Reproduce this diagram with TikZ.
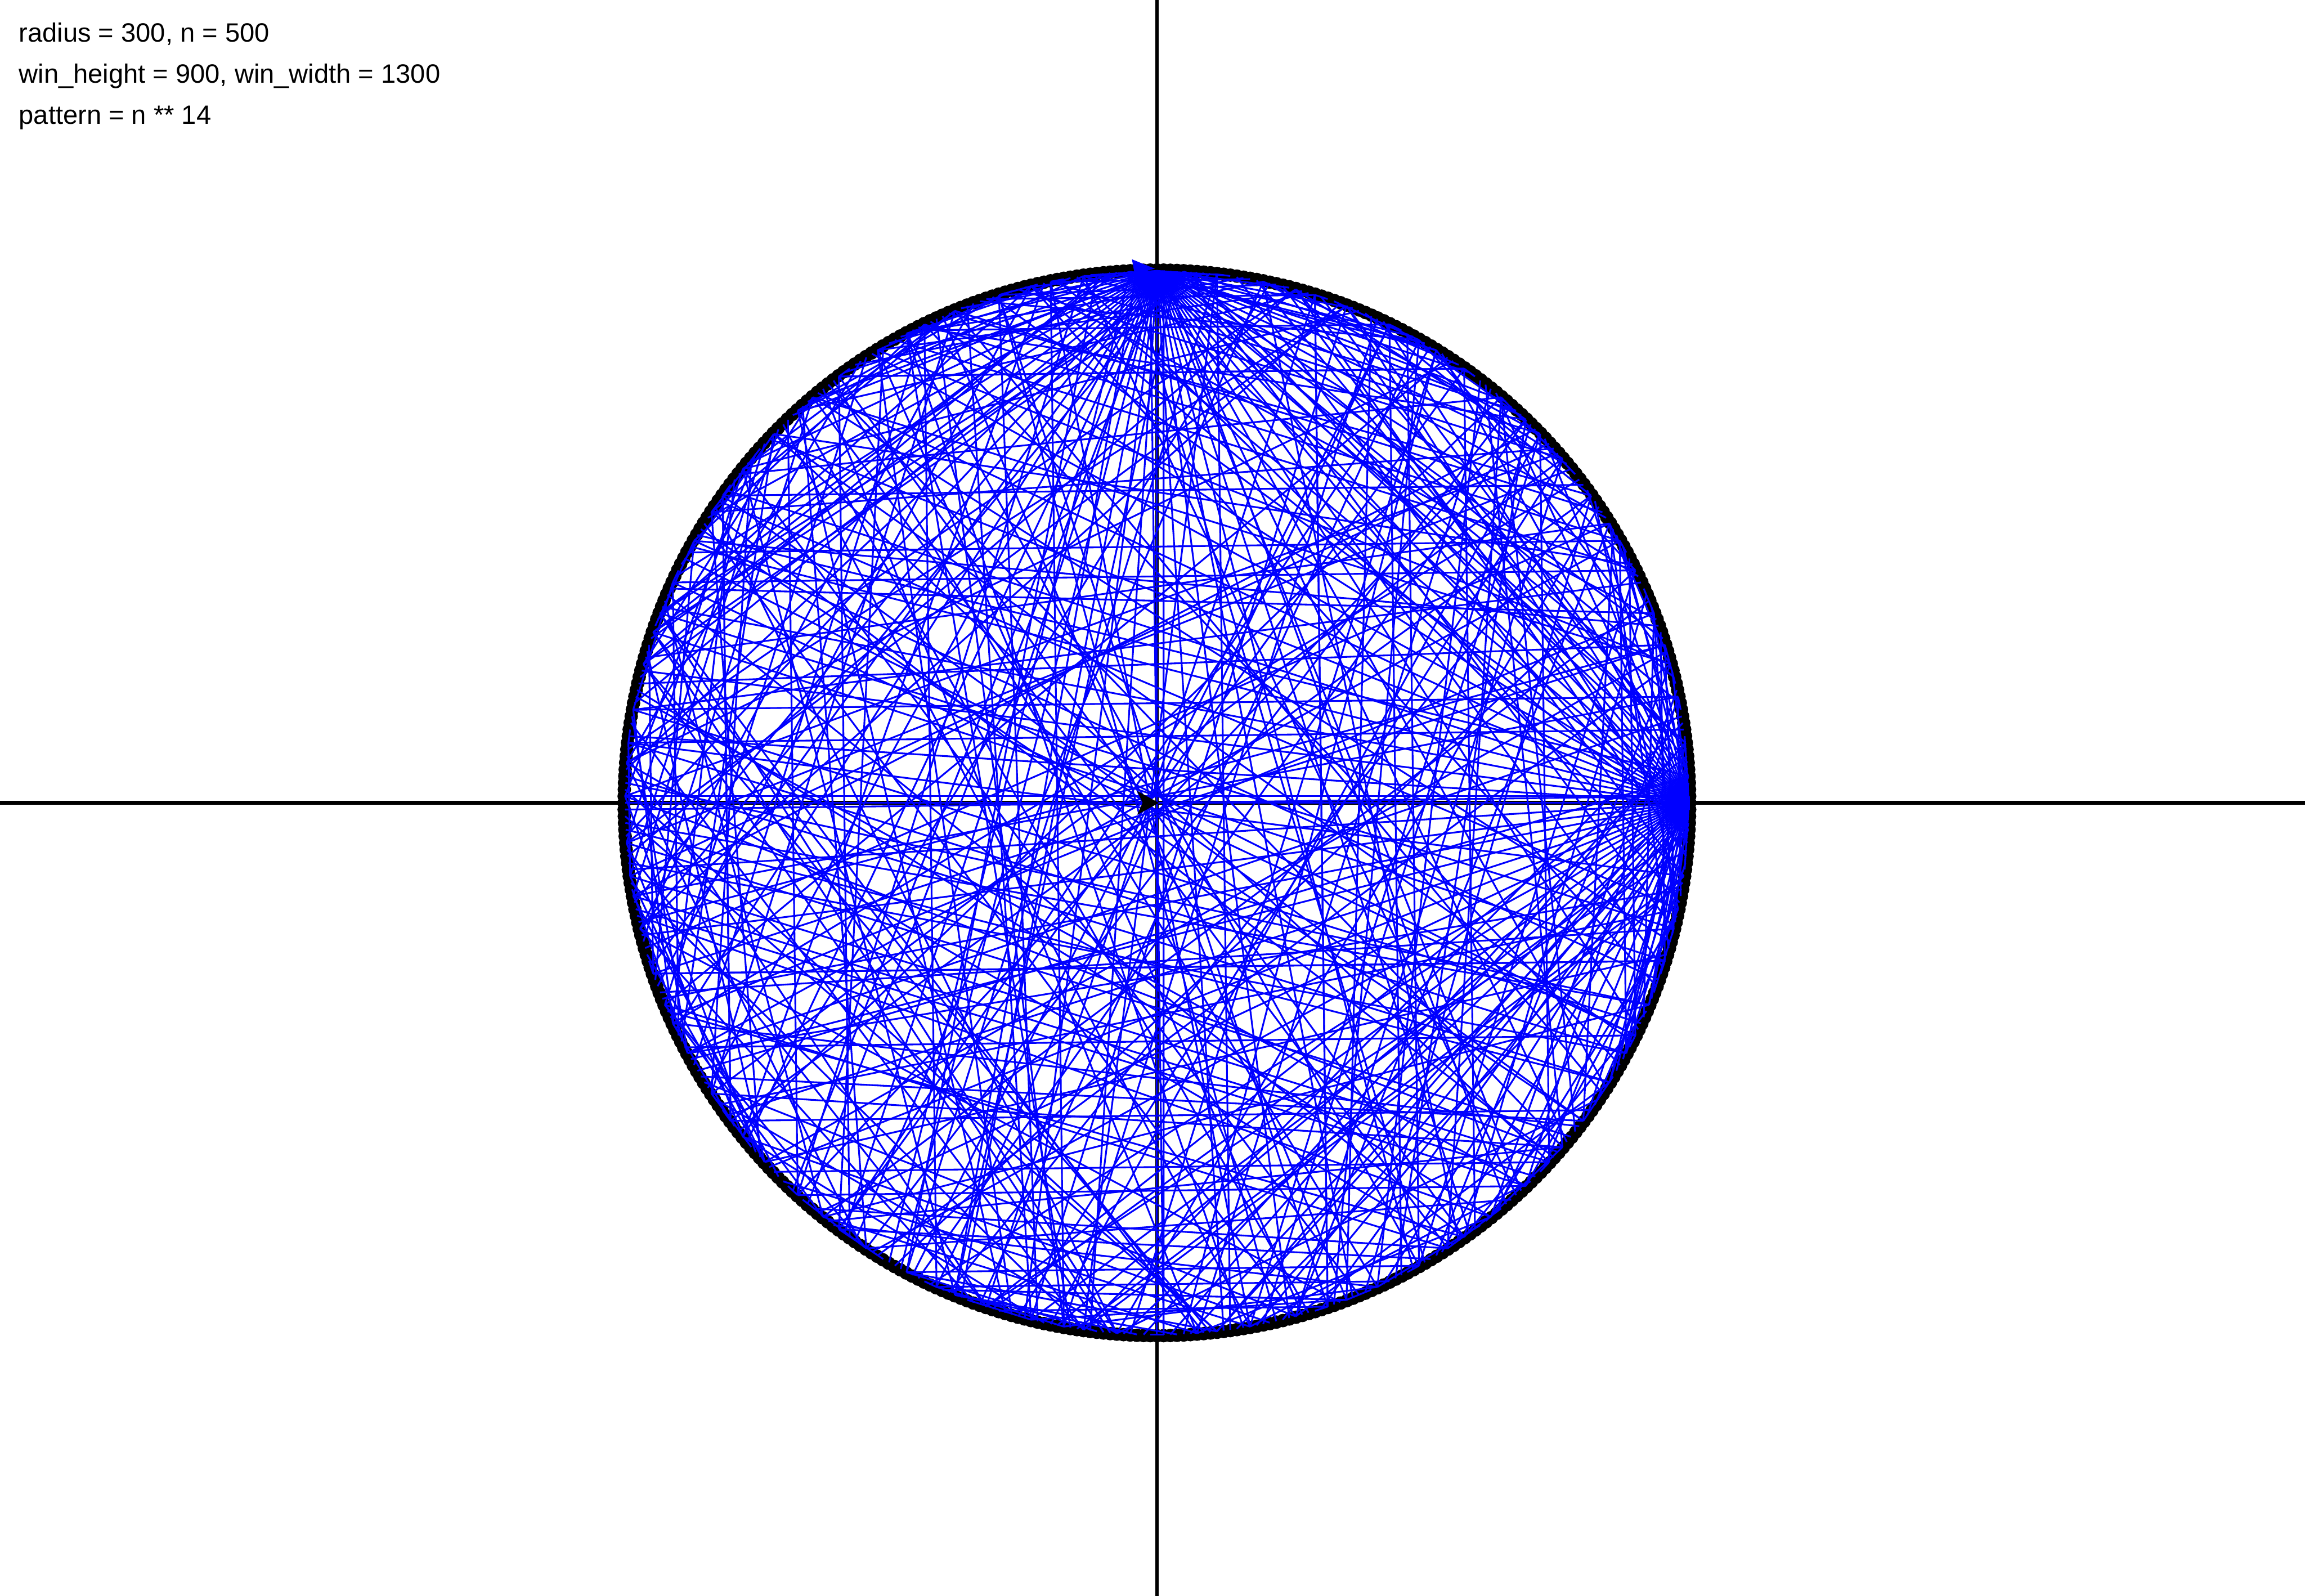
\documentclass[tikz,border=0pt]{standalone}
\usepackage{fontspec}
\setmainfont{Liberation Sans}
\newcommand\modn[1]{\the\numexpr(#1)-500*((2*(#1)-499)/1000)\relax}
\tikzset{
  axisline/.style={line width=0.6pt},
  chord/.style={blue, line width=0.28pt},
  infotext/.style={anchor=base west, inner sep=0pt, font=\fontsize{4.25}{5}\selectfont}
}
\begin{document}
\begin{tikzpicture}[x=0.01cm,y=0.01cm]
    \useasboundingbox (-650,-450) rectangle (650,450);
    \node[infotext] (radius) at (-640,426.5) {radius = 300, n = 500};
    \node[infotext] (window) at (-640,403.3) {win\_height = 900, win\_width = 1300};
    \node[infotext] (pattern) at (-640,380.1) {pattern = n ** 14};
    \begin{scope}[shift={(2.5,-2.8)}]
        \draw[axisline] (-652.5,0) -- (647.5,0);
        \draw[axisline] (0,-447.2) -- (0,452.8);
        \foreach \k in {0,...,499}
            \fill (\k*0.72:300.5) circle[radius=3.8];
        \foreach \k in {0,...,499}{
            \edef\sq{\modn{\k*\k}}
            \edef\qu{\modn{\sq*\sq}}
            \edef\oc{\modn{\qu*\qu}}
            \edef\tw{\modn{\oc*\qu}}
            \edef\pw{\modn{\tw*\sq}}
            \draw[chord] (\k*0.72:300) -- (\pw*0.72:300);
        }
        \filldraw[line width=0.3pt] (0,0) -- (-10,5.5) -- (-7.5,0) -- (-10,-5.5) -- cycle;
        \filldraw[blue, line width=0.3pt, shift={(-13.4,305.7)}, rotate=39] (0,0) -- (-5.5,-10) -- (0,-7.5) -- (5.5,-10) -- cycle;
    \end{scope}
\end{tikzpicture}
\end{document}
